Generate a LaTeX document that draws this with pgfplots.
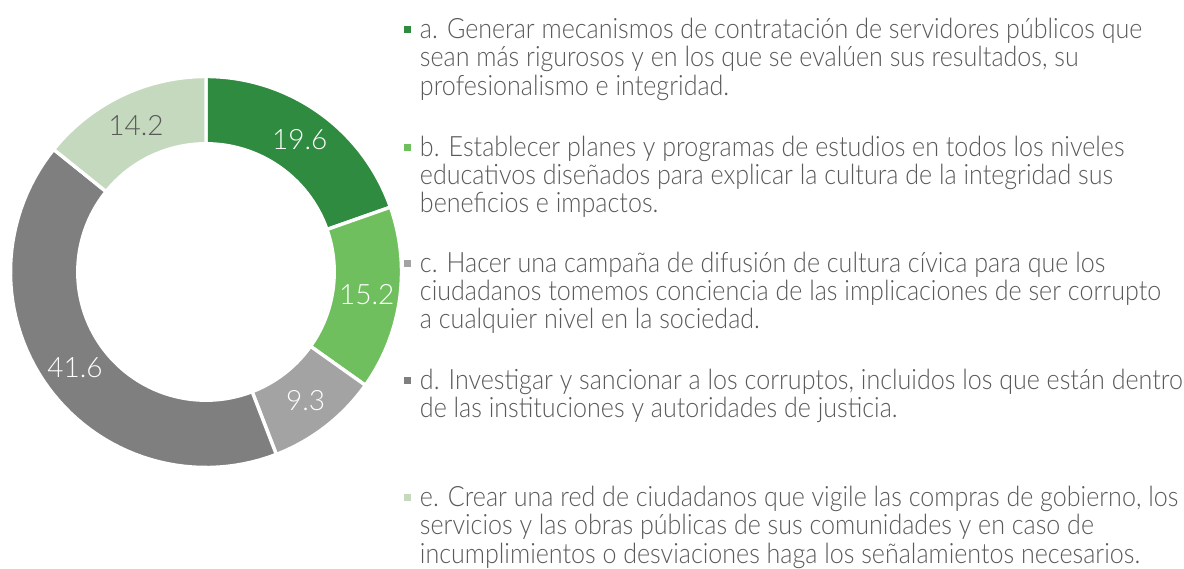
\documentclass[border=0pt]{standalone}
\usepackage{fontspec}
\setmainfont{Lato}[UprightFont={* Light}]
\newfontfamily\legendface{Lato}[UprightFont={* Light}, FakeStretch=0.895]
\usepackage{pgfplots}
\usepackage{pgfplotstable}
\pgfplotsset{compat=1.18}

\definecolor{slice0}{HTML}{2E8B3F}
\definecolor{slice1}{HTML}{70BF5E}
\definecolor{slice2}{HTML}{A3A3A3}
\definecolor{slice3}{HTML}{7F7F7F}
\definecolor{slice4}{HTML}{C5D9BE}
\definecolor{lab0}{HTML}{FFFFFF}
\definecolor{lab1}{HTML}{FFFFFF}
\definecolor{lab2}{HTML}{FFFFFF}
\definecolor{lab3}{HTML}{FFFFFF}
\definecolor{lab4}{HTML}{595959}
\definecolor{txt}{HTML}{595959}

\newcommand\labfont{\fontsize{14pt}{14pt}\selectfont}
\newcommand\legfont{\legendface\fontsize{14pt}{14.2pt}\selectfont}
% one legend entry: fixed-height block of left-aligned lines
\newcommand\entry[2]{\parbox[t][#1][t]{400pt}{\raggedright\rule{0pt}{11.5pt}#2}}

% share of answers per option (percent)
\pgfplotstableread{
item value
a 19.6
b 15.2
c 9.3
d 41.6
e 14.2
}\shares

\begin{document}
\begin{tikzpicture}
\useasboundingbox (0,0) rectangle (592pt,284pt);
\begin{axis}[
  at={(103pt,148pt)}, anchor=center,
  width=195.5pt, height=195.5pt, scale only axis,
  xmin=-1, xmax=1, ymin=-1, ymax=1,
  hide axis, clip=false,
  legend style={at={(1.0058,1.1558)}, anchor=north west, draw=none, fill=none,
    inner sep=0pt, outer sep=0pt, row sep=0pt, column sep=4.5pt,
    font=\legfont, text=txt, cells={anchor=base west},
    nodes={inner sep=0pt, outer sep=0pt, text height=, text depth=}},
  legend image code/.code={\fill[#1, draw=none] (0pt,2.6pt) rectangle (3.6pt,6.2pt);},
]
\pgfmathsetmacro\total{99.9}
\def\cum{0}
\pgfplotsforeachungrouped \i in {0,...,4}{%
  \pgfplotstablegetelem{\i}{value}\of\shares
  \let\v\pgfplotsretval
  \pgfmathsetmacro\aone{90-\cum/\total*360}%
  \pgfmathsetmacro\dlt{-\v/\total*360}%
  \pgfmathsetmacro\amid{\aone+\dlt/2}%
  \pgfmathsetmacro\cum{\cum+\v}%
  % ring segment: outer arc, radial edge, inner arc back, radial edge
  \edef\tmp{\noexpand\addplot[fill=slice\i, draw=white, line width=1.7pt,
      domain=0:4, samples=241]
    ({(1-0.344*(min(max(x-1,0),1)-min(max(x-3,0),1)))*cos(\aone+\dlt*(min(x,1)-min(max(x-2,0),1)))},
     {(1-0.344*(min(max(x-1,0),1)-min(max(x-3,0),1)))*sin(\aone+\dlt*(min(x,1)-min(max(x-2,0),1)))});}%
  \tmp
  % value label in the middle of the ring segment
  \edef\tmp{\noexpand\addplot[forget plot, draw=none, samples at={\amid},
      nodes near coords={\v}, nodes near coords align={center},
      every node near coord/.append style={text=lab\i, font=\noexpand\labfont, anchor=center}]
    ({0.83*cos(x)},{0.83*sin(x)});}%
  \tmp
}
\legend{
  {\entry{58.75pt}{a. Generar mecanismos de contratación de servidores públicos que\\sean más rigurosos y en los que se evalúen sus resultados, su\\profesionalismo e integridad.}},
  {\entry{58pt}{b. Establecer planes y programas de estudios en todos los niveles\\educativos diseñados para explicar la cultura de la integridad sus\\beneficios e impactos.}},
  {\entry{58.75pt}{c. Hacer una campaña de difusión de cultura cívica para que los\\ciudadanos tomemos conciencia de las implicaciones de ser corrupto\\a cualquier nivel en la sociedad.}},
  {\entry{58.5pt}{d. Investigar y sancionar a los corruptos, incluidos los que están dentro\\de las instituciones y autoridades de justicia.}},
  {\entry{58.75pt}{e. Crear una red de ciudadanos que vigile las compras de gobierno, los\\servicios y las obras públicas de sus comunidades y en caso de\\incumplimientos o desviaciones haga los señalamientos necesarios.}}
}
\end{axis}
\end{tikzpicture}
\end{document}
